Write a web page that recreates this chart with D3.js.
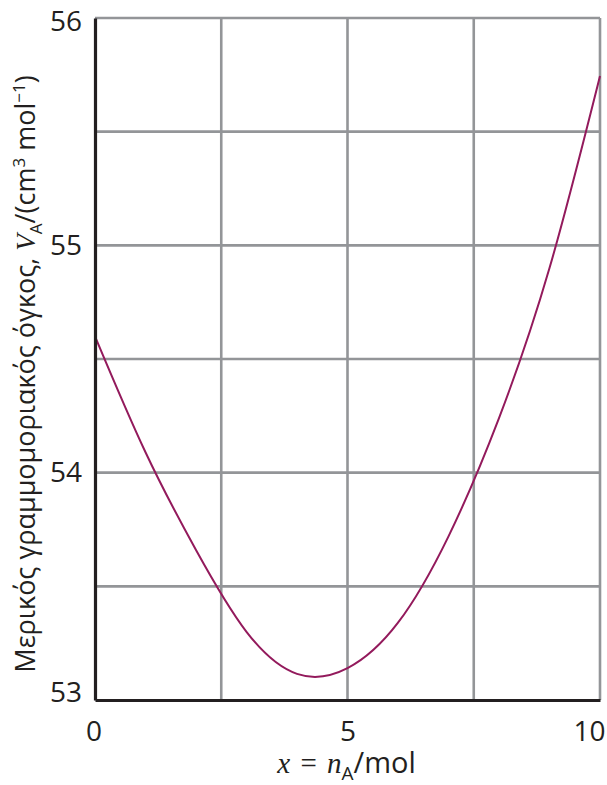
<!DOCTYPE html>
<html>
<head>
<meta charset="utf-8">
<script src="https://cdn.jsdelivr.net/npm/d3@7"></script>
<style>
  html, body { margin: 0; padding: 0; background: #ffffff; }
  svg { display: block; }
</style>
</head>
<body>
<svg id="chart" width="607" height="785"></svg>
<script>
// ---- data ----
const molA = [0, 1, 2, 3, 4, 5, 6, 7, 8, 9, 10];
const partialVolume = [54.60, 54.09, 53.66, 53.30, 53.115, 53.14, 53.34, 53.72, 54.24, 54.90, 55.745];
const xTickValues = [0, 5, 10];
const xGridValues = [2.5, 5, 7.5, 10];
const yTickValues = [53, 54, 55, 56];
const yGridValues = [53.5, 54, 54.5, 55, 55.5, 56];
const xDomain = [0, 10];
const yDomain = [53, 56];

// ---- layout ----
const svg = d3.select("#chart");
const margin = { left: 95, top: 18, right: 7, bottom: 85 };
const W = 607, H = 785;
const x = d3.scaleLinear().domain(xDomain).range([margin.left, W - margin.right]);
const y = d3.scaleLinear().domain(yDomain).range([H - margin.bottom, margin.top]);

const gridColor = "#939598";
const axisColor = "#231f20";
const curveColor = "#931a5c";
const sans = "'Open Sans', 'Noto Sans', sans-serif";
const serif = "'Liberation Serif', 'DejaVu Serif', serif";

// grid lines
svg.append("g").selectAll("line").data(xGridValues).join("line")
  .attr("x1", d => x(d)).attr("x2", d => x(d))
  .attr("y1", y(yDomain[0])).attr("y2", y(yDomain[1]))
  .attr("stroke", gridColor).attr("stroke-width", 2.6);
svg.append("g").selectAll("line").data(yGridValues).join("line")
  .attr("x1", x(xDomain[0])).attr("x2", x(xDomain[1]))
  .attr("y1", d => y(d)).attr("y2", d => y(d))
  .attr("stroke", gridColor).attr("stroke-width", 2.6);

// curve
const pts = molA.map((m, i) => [m, partialVolume[i]]);
svg.append("path")
  .datum(pts)
  .attr("fill", "none")
  .attr("stroke", curveColor)
  .attr("stroke-width", 2)
  .attr("d", d3.line().x(d => x(d[0])).y(d => y(d[1])).curve(d3.curveNatural));

// axes (left and bottom, dark)
const yAxis = d3.axisLeft(y).tickValues(yTickValues).tickSize(0).tickPadding(13).tickFormat(d3.format("d"));
const gy = svg.append("g").attr("transform", `translate(${x(xDomain[0])},0)`).call(yAxis);
gy.select(".domain").attr("stroke", axisColor).attr("stroke-width", 3.2);
gy.selectAll("text").attr("font-family", sans).attr("font-size", 28).attr("fill", axisColor);
gy.selectAll(".tick").filter(d => d === yDomain[1]).select("text").attr("dy", "0.46em");
gy.selectAll(".tick").filter(d => d === yDomain[0]).select("text").attr("dy", "0.05em");

const xAxis = d3.axisBottom(x).tickValues(xTickValues).tickSize(0).tickPadding(21).tickFormat(d3.format("d"));
const gx = svg.append("g").attr("transform", `translate(0,${y(yDomain[0])})`).call(xAxis);
gx.select(".domain").attr("stroke", axisColor).attr("stroke-width", 3.2);
gx.selectAll("text").attr("font-family", sans).attr("font-size", 28).attr("fill", axisColor);
gx.selectAll(".tick").filter(d => d === xDomain[1]).select("text")
  .attr("text-anchor", "end").attr("dx", 5);
gx.selectAll(".tick").filter(d => d === xDomain[0]).select("text").attr("dx", -1.5);

// x axis label: x = n_A/mol
const xl = svg.append("text")
  .attr("x", x(5) - 1).attr("y", 773)
  .attr("text-anchor", "middle")
  .attr("font-size", 29).attr("fill", axisColor);
xl.append("tspan").attr("font-family", serif).attr("font-style", "italic").text("x");
xl.append("tspan").attr("font-family", serif).attr("dx", 3).text(" = ");
xl.append("tspan").attr("font-family", serif).attr("font-style", "italic").attr("dx", 3).text("n");
xl.append("tspan").attr("font-family", sans).attr("font-size", 19).attr("dy", 7).text("A");
xl.append("tspan").attr("font-family", sans).attr("dy", -7).text("/mol");

// y axis label
const yl = svg.append("text")
  .attr("transform", `translate(35,${(y(yDomain[0]) + 48) / 2}) rotate(-90)`)
  .attr("text-anchor", "middle")
  .attr("font-family", sans)
  .attr("font-size", 27).attr("fill", axisColor);
yl.append("tspan").text("Μερικός γραμμομοριακός όγκος, ");
yl.append("tspan").attr("font-family", serif).attr("font-style", "italic").text("V");
yl.append("tspan").attr("font-size", 17).attr("dy", 7).text("A");
yl.append("tspan").attr("dy", -7).text("/(cm");
yl.append("tspan").attr("font-size", 17).attr("dy", -10).text("3");
yl.append("tspan").attr("dy", 10).text(" mol");
yl.append("tspan").attr("font-size", 17).attr("dy", -10).text("−1");
yl.append("tspan").attr("dy", 10).text(")");
</script>
</body>
</html>
